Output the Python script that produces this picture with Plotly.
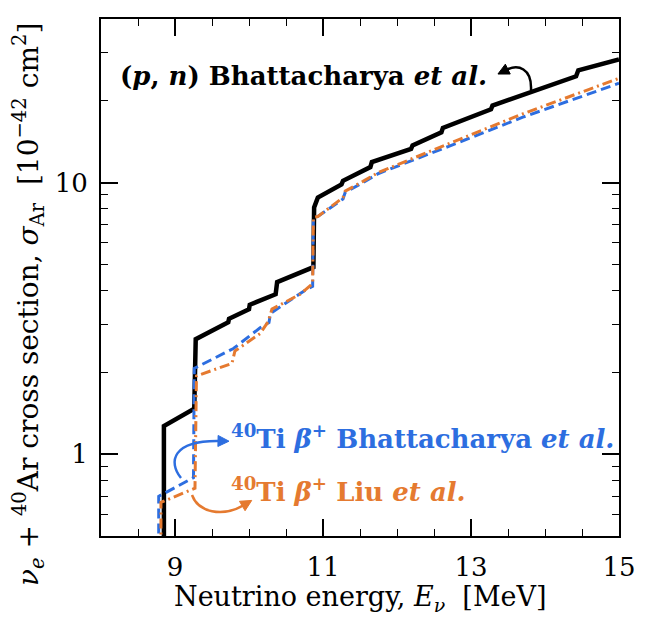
import plotly.graph_objects as go
import math

# ---------------- data ----------------
pn_energy = [8.85, 8.85, 9.26, 9.28, 9.72, 9.73, 10.0, 10.01, 10.36, 10.38, 10.87, 10.88,
             10.93, 11.25, 11.27, 11.64, 11.66, 12.19, 12.21, 12.60, 12.62, 13.27, 13.29,
             14.42, 14.45, 15.0]
pn_sigma = [0.45, 1.27, 1.47, 2.65, 3.06, 3.15, 3.42, 3.55, 3.88, 4.30, 4.88, 8.1,
            8.8, 9.85, 10.15, 11.4, 11.9, 13.3, 13.7, 15.3, 15.9, 18.6, 19.2,
            24.6, 25.9, 28.4]

tib_energy = [8.78, 8.78, 9.25, 9.26, 9.79, 10.15, 10.27, 10.29, 10.78, 10.86, 10.87,
              10.93, 11.27, 11.30, 11.54, 11.75, 12.7, 13.7, 15.0]
tib_sigma = [0.45, 0.70, 0.82, 2.07, 2.45, 2.92, 3.05, 3.3, 4.05, 4.15, 7.4,
             7.5, 8.7, 9.2, 10.0, 10.8, 13.6, 17.4, 23.2]

liu_energy = [8.81, 8.81, 9.22, 9.27, 9.29, 9.77, 9.81, 10.15, 10.26, 10.31, 10.69, 10.82,
              10.86, 10.87, 10.93, 11.27, 11.30, 11.54, 11.75, 12.7, 13.7, 15.0]
liu_sigma = [0.45, 0.665, 0.74, 0.75, 1.94, 2.16, 2.4, 2.78, 3.08, 3.42, 3.88, 4.16,
             4.25, 7.45, 7.5, 8.8, 9.3, 10.1, 10.9, 13.9, 17.9, 24.2]

x_major = [9, 11, 13, 15]
y_major = [1, 10]
y_major_text = ["1", "10"]
y_minor = [0.5, 0.6, 0.7, 0.8, 0.9, 2, 3, 4, 5, 6, 7, 8, 9, 20, 30, 40]

BLACK = "#000000"
BLUE = "#2D6EE0"
ORANGE = "#E57A30"
FONT = "DejaVu Serif"

W, H = 647, 620
L, R, T, B = 101, 619, 19, 536


def pp(px, py):
    return (px - L) / (R - L), (B - py) / (B - T)


fig = go.Figure()
fig.add_trace(go.Scatter(x=pn_energy, y=pn_sigma, mode="lines",
                         line=dict(color=BLACK, width=4.5), showlegend=False))
fig.add_trace(go.Scatter(x=tib_energy, y=tib_sigma, mode="lines",
                         line=dict(color=BLUE, width=3, dash="10px,5px"), showlegend=False))
fig.add_trace(go.Scatter(x=liu_energy, y=liu_sigma, mode="lines",
                         line=dict(color=ORANGE, width=3, dash="10px,4px,2px,4px"), showlegend=False))

axis_common = dict(showline=True, linecolor="black", linewidth=2, mirror="allticks",
                   ticks="inside", ticklen=17, tickwidth=1.5, tickcolor="black",
                   showgrid=False, zeroline=False,
                   tickfont=dict(family=FONT, size=26, color="black"))

fig.update_xaxes(range=[8, 15], tickvals=x_major, ticklabelstandoff=7,
                 minor=dict(ticks="inside", ticklen=7, tickwidth=1.2, tickcolor="black",
                            dtick=0.5, tick0=8, showgrid=False),
                 **axis_common)
fig.update_yaxes(type="log", range=[math.log10(0.5), math.log10(40)],
                 tickvals=y_major, ticktext=y_major_text, ticklabelstandoff=6,
                 minor=dict(ticks="inside", ticklen=7, tickwidth=1.2, tickcolor="black",
                            tickvals=y_minor, showgrid=False),
                 **axis_common)

annotations = []
# axis titles
xt = pp(360, 598)
annotations.append(dict(xref="paper", yref="paper", x=xt[0], y=xt[1], showarrow=False,
                        text="Neutrino energy, <i>E</i><sub><i>ν</i></sub>  [MeV]",
                        font=dict(family=FONT, size=27, color="black"),
                        xanchor="center", yanchor="middle"))
yt = pp(28, 305)
annotations.append(dict(xref="paper", yref="paper", x=yt[0], y=yt[1], showarrow=False,
                        textangle=-90,
                        text="<i>ν</i><sub><i>e</i></sub> + <sup>40</sup>Ar cross section, <i>σ</i><sub>Ar</sub>  [10<sup>−42</sup> cm<sup>2</sup>]",
                        font=dict(family=FONT, size=28, color="black"),
                        xanchor="center", yanchor="middle"))
# curve labels
p1 = pp(118, 76)
annotations.append(dict(xref="paper", yref="paper", x=p1[0], y=p1[1], showarrow=False,
                        text="<b>(<i>p</i>, <i>n</i>) Bhattacharya <i>et al.</i></b>",
                        font=dict(family=FONT, size=26, color=BLACK),
                        xanchor="left", yanchor="middle"))
p2 = pp(229, 437)
annotations.append(dict(xref="paper", yref="paper", x=p2[0], y=p2[1], showarrow=False,
                        text="<b><sup>40</sup>Ti <i>β</i><sup>+</sup> Bhattacharya <i>et al.</i></b>",
                        font=dict(family=FONT, size=26, color=BLUE),
                        xanchor="left", yanchor="middle"))
p3 = pp(229, 490)
annotations.append(dict(xref="paper", yref="paper", x=p3[0], y=p3[1], showarrow=False,
                        text="<b><sup>40</sup>Ti <i>β</i><sup>+</sup> Liu <i>et al.</i></b>",
                        font=dict(family=FONT, size=26, color=ORANGE),
                        xanchor="left", yanchor="middle"))


# curved arrows (decorations, pixel geometry converted to paper units)
def path_cubic(pts):
    q = [pp(*p) for p in pts]
    return "M {},{} C {},{} {},{} {},{}".format(q[0][0], q[0][1], q[1][0], q[1][1],
                                               q[2][0], q[2][1], q[3][0], q[3][1])


def head_path(tip, u, length=11, half=5.5):
    bx, by = tip[0] - length * u[0], tip[1] - length * u[1]
    vx, vy = -u[1], u[0]
    a = pp(*tip)
    b = pp(bx + half * vx, by + half * vy)
    c = pp(bx - half * vx, by - half * vy)
    return "M {},{} L {},{} L {},{} Z".format(a[0], a[1], b[0], b[1], c[0], c[1])


shapes = []
arrows = [
    ([(531, 90), (532, 68), (518, 64), (506, 70)], BLACK),
    ([(181, 478), (168, 462), (172, 440), (220, 441)], BLUE),
    ([(192, 495), (198, 512), (222, 518), (244, 505)], ORANGE),
]
for pts, col in arrows:
    shapes.append(dict(type="path", xref="paper", yref="paper", path=path_cubic(pts),
                       line=dict(color=col, width=2.5)))
    (ex, ey), (cx, cy) = pts[3], pts[2]
    dx, dy = ex - cx, ey - cy
    n = math.hypot(dx, dy)
    u = (dx / n, dy / n)
    tip = (ex + 9 * u[0], ey + 9 * u[1])
    shapes.append(dict(type="path", xref="paper", yref="paper", path=head_path(tip, u),
                       line=dict(color=col, width=1), fillcolor=col))

fig.update_layout(width=W, height=H, margin=dict(l=L, r=W - R, t=T, b=H - B),
                  paper_bgcolor="white", plot_bgcolor="white",
                  annotations=annotations, shapes=shapes, showlegend=False)

fig.write_html("out.html")
